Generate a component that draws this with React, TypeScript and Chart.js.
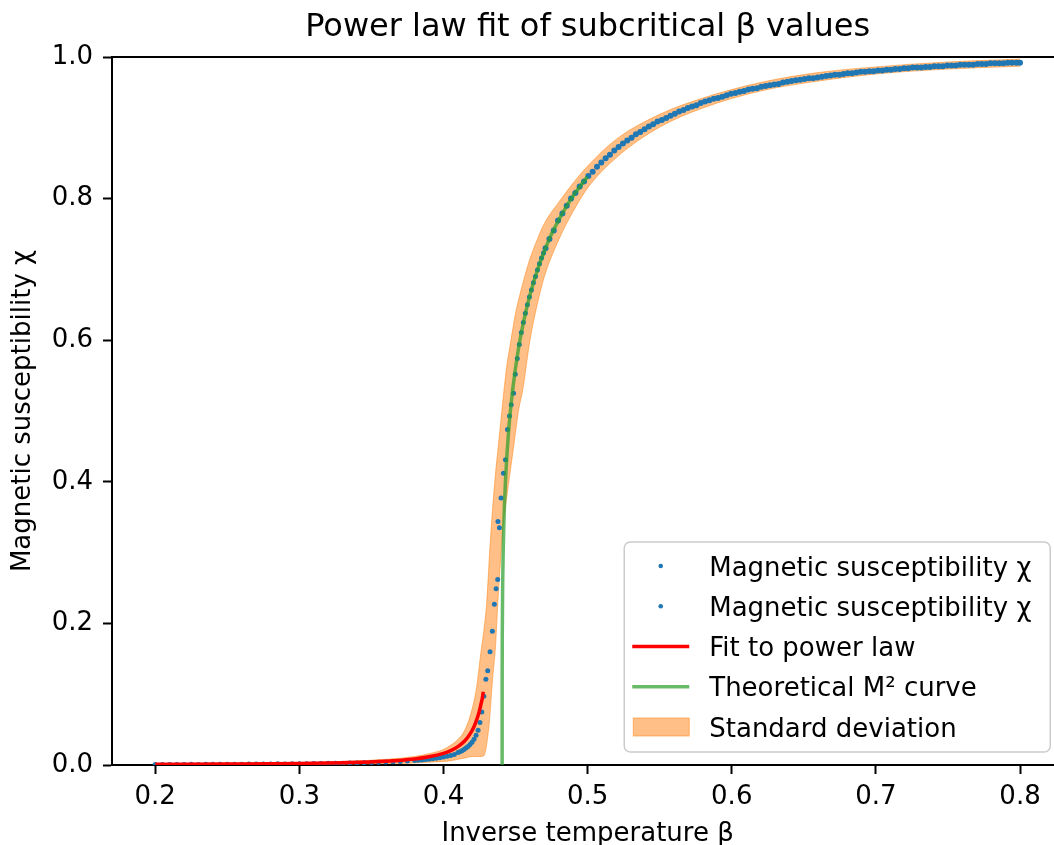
import React, { useEffect, useRef } from 'react';
import { Chart, registerables } from 'chart.js';

Chart.register(...registerables);

// ---------- data ----------
const xTicks = [0.2, 0.3, 0.4, 0.5, 0.6, 0.7, 0.8];
const yTicks = [0.0, 0.2, 0.4, 0.6, 0.8, 1.0];

// subcritical measurements (β below the fit cut-off)
const subBeta = [
  0.200, 0.205, 0.210, 0.215, 0.220, 0.225, 0.230, 0.235, 0.240, 0.245,
  0.250, 0.255, 0.260, 0.265, 0.270, 0.275, 0.280, 0.285, 0.290, 0.295,
  0.300, 0.305, 0.310, 0.315, 0.320, 0.325, 0.330, 0.335, 0.340, 0.345,
  0.350, 0.355, 0.360, 0.365, 0.370, 0.375, 0.380,
  0.3825, 0.385, 0.3875, 0.390, 0.3925, 0.395, 0.3975, 0.400, 0.4025, 0.405, 0.4075,
  0.4100, 0.4114, 0.4128, 0.4142, 0.4156, 0.4170, 0.4184, 0.4198, 0.4212, 0.4226,
  0.4240, 0.4253, 0.4266, 0.4280,
];
const subChi = [
  0.0006, 0.0007, 0.0006, 0.0008, 0.0007, 0.0009, 0.0008, 0.0010, 0.0009, 0.0011,
  0.0010, 0.0012, 0.0011, 0.0013, 0.0014, 0.0013, 0.0015, 0.0016, 0.0015, 0.0017,
  0.0018, 0.0019, 0.0020, 0.0021, 0.0023, 0.0024, 0.0026, 0.0028, 0.0030, 0.0033,
  0.0036, 0.0039, 0.0042, 0.0046, 0.0051, 0.0056, 0.0062,
  0.0066, 0.0071, 0.0076, 0.0082, 0.0088, 0.0095, 0.0103, 0.0112, 0.0122, 0.0134, 0.0147,
  0.0175, 0.0188, 0.0203, 0.0220, 0.0240, 0.0262, 0.0290, 0.0322, 0.0362, 0.0420,
  0.0490, 0.0600, 0.0750, 0.0970,
];

// measurements above the fit cut-off
const supBeta = [
  0.4294, 0.4307, 0.4323, 0.4339, 0.4353, 0.4365, 0.4376, 0.4378, 0.4388, 0.4399,
  0.4416, 0.4430, 0.4444, 0.4458, 0.4470, 0.4486, 0.4498, 0.4512, 0.4526, 0.4540,
  0.4554, 0.4568, 0.4582, 0.4596, 0.4610, 0.4624, 0.4638, 0.4652, 0.4666, 0.4680,
  0.4694, 0.4708,
  0.4735, 0.4765, 0.4795, 0.4825, 0.4855, 0.4885, 0.4915, 0.4945, 0.4975, 0.5005,
  0.5035, 0.5065, 0.5095, 0.5125, 0.5155, 0.5185, 0.5215, 0.5245, 0.5275, 0.5305,
  0.5335, 0.5365, 0.5395, 0.5425, 0.5455, 0.5485, 0.5515, 0.5545, 0.5575, 0.5605,
  0.5635, 0.5665, 0.5695, 0.5725, 0.5755, 0.5785, 0.5815, 0.5845, 0.5875, 0.5905,
  0.5935, 0.5965, 0.5995, 0.6025, 0.6055, 0.6085, 0.6115, 0.6145, 0.6175, 0.6205,
  0.6235, 0.6265, 0.6295, 0.6325, 0.6355, 0.6385, 0.6415, 0.6445, 0.6475, 0.6505,
  0.6535, 0.6565, 0.6595, 0.6625, 0.6655, 0.6685, 0.6715, 0.6745, 0.6775, 0.6805,
  0.6835, 0.6865, 0.6895, 0.6925, 0.6955, 0.6985, 0.7015, 0.7045, 0.7075, 0.7105,
  0.7135, 0.7165, 0.7195, 0.7225, 0.7255, 0.7285, 0.7315, 0.7345, 0.7375, 0.7405,
  0.7435, 0.7465, 0.7495, 0.7525, 0.7555, 0.7585, 0.7615, 0.7645, 0.7675, 0.7705,
  0.7735, 0.7765, 0.7795, 0.7825, 0.7855, 0.7885, 0.7915, 0.7945, 0.7975, 0.8000,
];
const supChi = [
  0.121, 0.133, 0.160, 0.189, 0.227, 0.249, 0.262, 0.344, 0.335, 0.377,
  0.412, 0.431, 0.474, 0.493, 0.509, 0.525, 0.552, 0.574, 0.594, 0.611,
  0.625, 0.638, 0.650, 0.661, 0.671, 0.681, 0.690, 0.699, 0.708, 0.716,
  0.723, 0.730,
  0.743, 0.755, 0.769, 0.779, 0.790, 0.800, 0.808, 0.817, 0.824, 0.832,
  0.838, 0.845, 0.851, 0.857, 0.862, 0.868, 0.873, 0.878, 0.882, 0.886,
  0.891, 0.894, 0.898, 0.902, 0.905, 0.909, 0.911, 0.914, 0.917, 0.920,
  0.923, 0.925, 0.928, 0.930, 0.932, 0.935, 0.937, 0.939, 0.941, 0.942,
  0.944, 0.946, 0.948, 0.949, 0.951, 0.952, 0.954, 0.955, 0.956, 0.958,
  0.959, 0.960, 0.961, 0.962, 0.964, 0.965, 0.966, 0.967, 0.968, 0.969,
  0.970, 0.970, 0.971, 0.972, 0.973, 0.974, 0.975, 0.975, 0.976, 0.977,
  0.977, 0.978, 0.979, 0.979, 0.980, 0.980, 0.981, 0.981, 0.982, 0.982,
  0.983, 0.983, 0.984, 0.984, 0.985, 0.985, 0.985, 0.986, 0.986, 0.987,
  0.987, 0.987, 0.988, 0.988, 0.988, 0.989, 0.989, 0.989, 0.989, 0.990,
  0.990, 0.990, 0.991, 0.991, 0.991, 0.991, 0.992, 0.992, 0.992, 0.992,
];

// power-law fit (red)
const fitBeta = [0.200, 0.250, 0.300, 0.330, 0.360, 0.380, 0.390, 0.400, 0.405, 0.410,
  0.415, 0.418, 0.421, 0.4225, 0.424, 0.425, 0.426, 0.427, 0.4276];
const fitChi = [0.0009, 0.0014, 0.0022, 0.0033, 0.0054, 0.0086, 0.0116, 0.0165, 0.0204, 0.0260,
  0.0347, 0.0425, 0.0534, 0.0610, 0.0698, 0.0770, 0.0859, 0.0950, 0.1035];

// theoretical M² curve (green)
const theoryBeta = [0.44069, 0.4407, 0.4408, 0.4410, 0.4420, 0.4430, 0.4450, 0.4480, 0.4520,
  0.4560, 0.4600, 0.4650, 0.4700, 0.4750, 0.4800, 0.4850, 0.4900, 0.4950, 0.5000];
const theoryM2 = [0.0, 0.110, 0.188, 0.243, 0.348, 0.401, 0.467, 0.530, 0.588,
  0.630, 0.664, 0.698, 0.726, 0.750, 0.770, 0.788, 0.804, 0.818, 0.831];

// standard deviation band (orange)
const bandBeta = [0.200, 0.250, 0.300, 0.330, 0.360, 0.380, 0.390, 0.400, 0.405, 0.410,
  0.415, 0.420, 0.423, 0.426, 0.428, 0.430, 0.432, 0.434, 0.436, 0.438,
  0.440, 0.442, 0.444, 0.446, 0.448, 0.450, 0.452, 0.455, 0.460, 0.465,
  0.470, 0.480, 0.490, 0.500, 0.520, 0.550, 0.580, 0.620, 0.660, 0.700,
  0.750, 0.800];
const bandUpper = [0.002, 0.0025, 0.0035, 0.005, 0.008, 0.012, 0.016, 0.022, 0.028, 0.036,
  0.050, 0.080, 0.110, 0.160, 0.190, 0.230, 0.300, 0.360, 0.410, 0.450,
  0.490, 0.530, 0.565, 0.590, 0.615, 0.638, 0.656, 0.680, 0.715, 0.742,
  0.765, 0.795, 0.822, 0.846, 0.884, 0.919, 0.942, 0.964, 0.978, 0.986,
  0.993, 0.997];
const bandLower = [0.0, 0.0, 0.0005, 0.001, 0.002, 0.003, 0.004, 0.005, 0.006, 0.008,
  0.010, 0.012, 0.012, 0.012, 0.013, 0.030, 0.065, 0.120, 0.165, 0.240,
  0.300, 0.350, 0.380, 0.410, 0.440, 0.470, 0.500, 0.530, 0.600, 0.650,
  0.690, 0.742, 0.782, 0.815, 0.858, 0.901, 0.928, 0.952, 0.966, 0.976,
  0.983, 0.987];

const LABEL_CHI = 'Magnetic susceptibility χ';
const LABEL_FIT = 'Fit to power law';
const LABEL_THEORY = 'Theoretical M² curve';
const LABEL_STD = 'Standard deviation';

const BLUE = '#1f77b4';
const RED = '#ff0000';
const GREEN = 'rgba(44,160,44,0.72)';
const ORANGE = 'rgba(255,127,14,0.5)';
const FONT = "'DejaVu Sans', sans-serif";

const pts = (xs: number[], ys: number[]) => xs.map((x, i) => ({ x, y: ys[i] }));

function roundRectPath(ctx: CanvasRenderingContext2D, x: number, y: number, w: number, h: number, r: number) {
  ctx.beginPath();
  ctx.moveTo(x + r, y);
  ctx.lineTo(x + w - r, y);
  ctx.arcTo(x + w, y, x + w, y + r, r);
  ctx.lineTo(x + w, y + h - r);
  ctx.arcTo(x + w, y + h, x + w - r, y + h, r);
  ctx.lineTo(x + r, y + h);
  ctx.arcTo(x, y + h, x, y + h - r, r);
  ctx.lineTo(x, y + r);
  ctx.arcTo(x, y, x + r, y, r);
  ctx.closePath();
}

const framePlugin = {
  id: 'mplFrame',
  afterDraw(chart: any) {
    const { ctx, chartArea } = chart;
    ctx.save();
    // top and right spines
    ctx.strokeStyle = '#000';
    ctx.lineWidth = 2;
    ctx.beginPath();
    ctx.moveTo(chartArea.left - 1, chartArea.top);
    ctx.lineTo(chartArea.right + 1, chartArea.top);
    ctx.lineTo(chartArea.right, chartArea.bottom);
    ctx.stroke();

    // legend (lower right, inside axes)
    const w = 426;
    const h = 210;
    const x0 = chartArea.right - 13 - w;
    const y0 = chartArea.bottom - 13 - h;
    roundRectPath(ctx, x0, y0, w, h, 6);
    ctx.fillStyle = 'rgba(255,255,255,0.8)';
    ctx.fill();
    ctx.strokeStyle = '#cccccc';
    ctx.lineWidth = 1.5;
    ctx.stroke();

    const rowGap = 40.25;
    const firstRow = y0 + 24;
    const hx0 = x0 + 8;
    const hx1 = x0 + 65;
    const textX = x0 + 85;
    const items = [
      { kind: 'dot', color: BLUE, label: LABEL_CHI },
      { kind: 'dot', color: BLUE, label: LABEL_CHI },
      { kind: 'line', color: RED, label: LABEL_FIT },
      { kind: 'line', color: GREEN, label: LABEL_THEORY },
      { kind: 'patch', color: ORANGE, label: LABEL_STD },
    ];
    ctx.font = `26px ${FONT}`;
    ctx.textAlign = 'left';
    ctx.textBaseline = 'alphabetic';
    items.forEach((it, i) => {
      const cy = firstRow + i * rowGap;
      if (it.kind === 'dot') {
        ctx.fillStyle = it.color;
        ctx.beginPath();
        ctx.arc((hx0 + hx1) / 2, cy, 2.3, 0, Math.PI * 2);
        ctx.fill();
      } else if (it.kind === 'line') {
        ctx.strokeStyle = it.color;
        ctx.lineWidth = 3.5;
        ctx.beginPath();
        ctx.moveTo(hx0, cy);
        ctx.lineTo(hx1, cy);
        ctx.stroke();
      } else {
        ctx.fillStyle = it.color;
        ctx.fillRect(hx0 + 1, cy - 9, hx1 - hx0 - 1, 18);
        ctx.strokeStyle = it.color;
        ctx.lineWidth = 1;
        ctx.strokeRect(hx0 + 1, cy - 9, hx1 - hx0 - 1, 18);
      }
      ctx.fillStyle = '#000';
      ctx.fillText(it.label, textX, cy + 9.5);
    });
    ctx.restore();
  },
};

const dotRadius = (c: any) => (c.raw && c.raw.x > 0.47 ? 3.0 : 2.5);

export default function App() {
  const canvasRef = useRef<HTMLCanvasElement | null>(null);

  useEffect(() => {
    const canvas = canvasRef.current;
    if (!canvas) return;
    Chart.defaults.font.family = FONT;
    const chart = new Chart(canvas, {
      type: 'line',
      data: {
        datasets: [
          {
            label: LABEL_STD + ' (lower)',
            data: pts(bandBeta, bandLower),
            borderColor: ORANGE,
            borderWidth: 1,
            pointRadius: 0,
            fill: false,
            cubicInterpolationMode: 'monotone',
            order: 11,
          },
          {
            label: LABEL_STD,
            data: pts(bandBeta, bandUpper),
            borderColor: ORANGE,
            backgroundColor: ORANGE,
            borderWidth: 1,
            pointRadius: 0,
            fill: '-1',
            cubicInterpolationMode: 'monotone',
            order: 10,
          },
          {
            label: LABEL_CHI,
            data: pts(subBeta, subChi),
            showLine: false,
            pointRadius: 2.5,
            pointBackgroundColor: BLUE,
            pointBorderWidth: 0,
            order: 4,
          },
          {
            label: LABEL_CHI,
            data: pts(supBeta, supChi),
            showLine: false,
            pointRadius: dotRadius,
            pointBackgroundColor: BLUE,
            pointBorderWidth: 0,
            order: 3,
          },
          {
            label: LABEL_FIT,
            data: pts(fitBeta, fitChi),
            borderColor: RED,
            borderWidth: 3.5,
            pointRadius: 0,
            fill: false,
            cubicInterpolationMode: 'monotone',
            order: 2,
          },
          {
            label: LABEL_THEORY,
            data: pts(theoryBeta, theoryM2),
            borderColor: GREEN,
            borderWidth: 3.5,
            pointRadius: 0,
            fill: false,
            cubicInterpolationMode: 'monotone',
            order: 1,
          },
        ] as any,
      },
      options: {
        animation: false,
        responsive: false,
        events: [],
        layout: { padding: { left: 0, right: 6.75, top: 0, bottom: 0 } },
        plugins: {
          legend: { display: false },
          tooltip: { enabled: false },
          title: {
            display: true,
            fullSize: false,
            text: 'Power law fit of subcritical β values',
            color: '#000',
            font: { size: 32, weight: 'normal', family: FONT, lineHeight: 1.2 },
            padding: { top: 8.5, bottom: 10.1 },
          },
        },
        scales: {
          x: {
            type: 'linear',
            min: 0.17,
            max: 0.83,
            afterBuildTicks: (scale: any) => {
              scale.ticks = xTicks.map((v) => ({ value: v }));
            },
            afterFit: (scale: any) => {
              scale.height = 80;
            },
            ticks: {
              color: '#000',
              font: { size: 26, family: FONT },
              padding: 8,
              maxRotation: 0,
              autoSkip: false,
              callback: (v: any) => Number(v).toFixed(1),
            },
            grid: {
              display: true,
              drawOnChartArea: false,
              drawTicks: true,
              tickLength: 9,
              tickWidth: 2,
              tickColor: '#000',
              color: '#000',
            },
            border: { display: true, color: '#000', width: 2 },
            title: {
              display: true,
              text: 'Inverse temperature β',
              color: '#000',
              font: { size: 26, family: FONT, lineHeight: 0.9 },
              padding: { top: 0, bottom: -1 },
            },
          },
          y: {
            type: 'linear',
            min: 0,
            max: 1,
            afterBuildTicks: (scale: any) => {
              scale.ticks = yTicks.map((v) => ({ value: v }));
            },
            afterFit: (scale: any) => {
              scale.width = 112;
            },
            ticks: {
              color: '#000',
              font: { size: 26, family: FONT },
              padding: 10,
              autoSkip: false,
              callback: (v: any) => Number(v).toFixed(1),
            },
            grid: {
              display: true,
              drawOnChartArea: false,
              drawTicks: true,
              tickLength: 9,
              tickWidth: 2,
              tickColor: '#000',
              color: '#000',
            },
            border: { display: true, color: '#000', width: 2 },
            title: {
              display: true,
              text: LABEL_CHI,
              color: '#000',
              font: { size: 26, family: FONT, lineHeight: 1.2 },
              padding: { top: 8, bottom: 0 },
            },
          },
        },
      } as any,
      plugins: [framePlugin],
    });
    return () => chart.destroy();
  }, []);

  return (
    <div
      style={{
        position: 'fixed',
        left: 0,
        top: 0,
        width: 1054,
        height: 845,
        overflow: 'hidden',
        background: '#fff',
      }}
    >
      <canvas ref={canvasRef} width={1070} height={845} style={{ width: 1070, height: 845, display: 'block' }} />
    </div>
  );
}
